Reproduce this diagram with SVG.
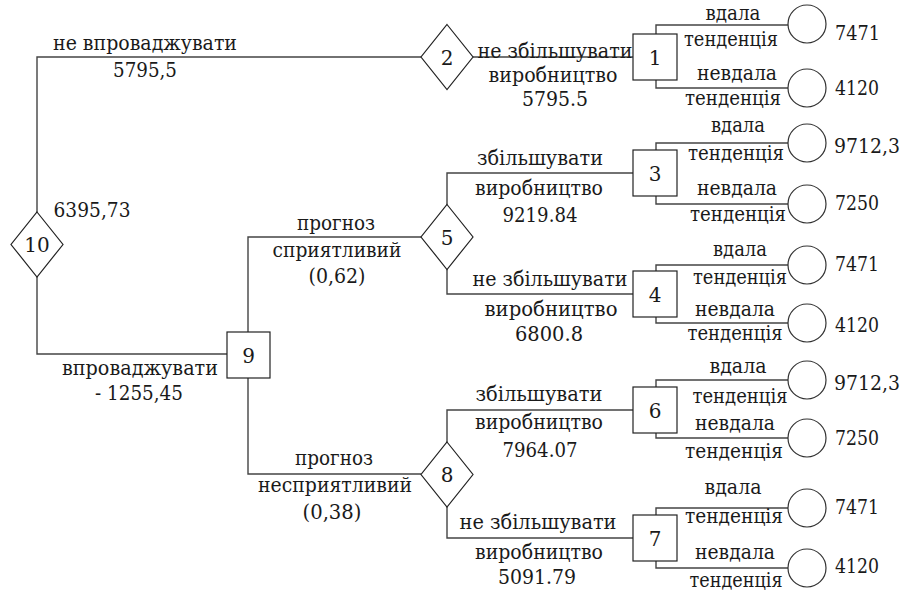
<svg xmlns="http://www.w3.org/2000/svg" width="904" height="594" viewBox="0 0 904 594">
<style>
text{font-family:'DejaVu Serif',serif;font-size:20px;fill:#1a1a1a;text-anchor:middle}
.ln{fill:none;stroke:#444;stroke-width:1.4}
.dm,.bx{fill:#fff;stroke:#222;stroke-width:1.2}
.ci{fill:#fff;stroke:#333;stroke-width:1.2}
.v{text-anchor:start}
</style>
<rect width="904" height="594" fill="#fff"/>
<g id="connectors">
<path class="ln" d="M37,212V57H421"/>
<path class="ln" d="M473,57H633"/>
<path class="ln" d="M656,34V25H788M656,80V88H788"/>
<path class="ln" d="M37,277V354H227"/>
<path class="ln" d="M248,332V237H421"/>
<path class="ln" d="M248,378V474H421"/>
<path class="ln" d="M447,205V173H633"/>
<path class="ln" d="M447,269V294H633"/>
<path class="ln" d="M447,442V410H633"/>
<path class="ln" d="M447,507V538H633"/>
<path class="ln" d="M656,150V143H788M656,196V204H788"/>
<path class="ln" d="M656,271V265H788M656,317V323H788"/>
<path class="ln" d="M656,387V380H788M656,433V438H788"/>
<path class="ln" d="M656,515V508H788M656,561V568H788"/>
</g>
<g id="edge-labels">
<text x="145" y="50" textLength="184" lengthAdjust="spacingAndGlyphs">не впроваджувати</text>
<text x="145" y="77" textLength="64" lengthAdjust="spacingAndGlyphs">5795,5</text>
<text x="92" y="217" textLength="77" lengthAdjust="spacingAndGlyphs">6395,73</text>
<text x="140" y="375" textLength="156" lengthAdjust="spacingAndGlyphs">впроваджувати</text>
<text x="139" y="400" textLength="88" lengthAdjust="spacingAndGlyphs">- 1255,45</text>
<text x="336" y="230" textLength="78" lengthAdjust="spacingAndGlyphs">прогноз</text>
<text x="337" y="257" textLength="129" lengthAdjust="spacingAndGlyphs">сприятливий</text>
<text x="337" y="283" textLength="57" lengthAdjust="spacingAndGlyphs">(0,62)</text>
<text x="334" y="465" textLength="78" lengthAdjust="spacingAndGlyphs">прогноз</text>
<text x="335" y="492" textLength="154" lengthAdjust="spacingAndGlyphs">несприятливий</text>
<text x="332" y="519" textLength="59" lengthAdjust="spacingAndGlyphs">(0,38)</text>
<text x="555" y="58" textLength="155" lengthAdjust="spacingAndGlyphs">не збільшувати</text>
<text x="553" y="82" textLength="129" lengthAdjust="spacingAndGlyphs">виробництво</text>
<text x="555" y="106" textLength="66" lengthAdjust="spacingAndGlyphs">5795.5</text>
<text x="540" y="165" textLength="126" lengthAdjust="spacingAndGlyphs">збільшувати</text>
<text x="539" y="195" textLength="128" lengthAdjust="spacingAndGlyphs">виробництво</text>
<text x="540" y="222" textLength="75" lengthAdjust="spacingAndGlyphs">9219.84</text>
<text x="550" y="286" textLength="155" lengthAdjust="spacingAndGlyphs">не збільшувати</text>
<text x="551" y="316" textLength="133" lengthAdjust="spacingAndGlyphs">виробництво</text>
<text x="549" y="341" textLength="68" lengthAdjust="spacingAndGlyphs">6800.8</text>
<text x="539" y="401" textLength="127" lengthAdjust="spacingAndGlyphs">збільшувати</text>
<text x="539" y="429" textLength="128" lengthAdjust="spacingAndGlyphs">виробництво</text>
<text x="540" y="457" textLength="75" lengthAdjust="spacingAndGlyphs">7964.07</text>
<text x="538" y="529" textLength="157" lengthAdjust="spacingAndGlyphs">не збільшувати</text>
<text x="539" y="559" textLength="128" lengthAdjust="spacingAndGlyphs">виробництво</text>
<text x="537" y="584" textLength="78" lengthAdjust="spacingAndGlyphs">5091.79</text>
<text x="733" y="20" textLength="55" lengthAdjust="spacingAndGlyphs">вдала</text>
<text x="731" y="46" textLength="94" lengthAdjust="spacingAndGlyphs">тенденція</text>
<text x="737" y="80" textLength="80" lengthAdjust="spacingAndGlyphs">невдала</text>
<text x="733" y="105" textLength="96" lengthAdjust="spacingAndGlyphs">тенденція</text>
<text x="738" y="132" textLength="54" lengthAdjust="spacingAndGlyphs">вдала</text>
<text x="736" y="160" textLength="96" lengthAdjust="spacingAndGlyphs">тенденція</text>
<text x="737" y="195" textLength="80" lengthAdjust="spacingAndGlyphs">невдала</text>
<text x="738" y="221" textLength="96" lengthAdjust="spacingAndGlyphs">тенденція</text>
<text x="740" y="256" textLength="54" lengthAdjust="spacingAndGlyphs">вдала</text>
<text x="740" y="284" textLength="94" lengthAdjust="spacingAndGlyphs">тенденція</text>
<text x="735" y="316" textLength="80" lengthAdjust="spacingAndGlyphs">невдала</text>
<text x="735" y="340" textLength="95" lengthAdjust="spacingAndGlyphs">тенденція</text>
<text x="738" y="373" textLength="57" lengthAdjust="spacingAndGlyphs">вдала</text>
<text x="740" y="403" textLength="95" lengthAdjust="spacingAndGlyphs">тенденція</text>
<text x="735" y="430" textLength="80" lengthAdjust="spacingAndGlyphs">невдала</text>
<text x="734" y="458" textLength="98" lengthAdjust="spacingAndGlyphs">тенденція</text>
<text x="733" y="494" textLength="57" lengthAdjust="spacingAndGlyphs">вдала</text>
<text x="734" y="523" textLength="98" lengthAdjust="spacingAndGlyphs">тенденція</text>
<text x="735" y="559" textLength="80" lengthAdjust="spacingAndGlyphs">невдала</text>
<text x="736" y="587" textLength="93" lengthAdjust="spacingAndGlyphs">тенденція</text>
</g>
<g id="n10"><polygon class="dm" points="37,212 63,244.5 37,277 11,244.5"/><text x="37" y="252">10</text></g>
<g id="n2"><polygon class="dm" points="447,24.5 473,57 447,89.5 421,57"/><text x="447" y="64.5">2</text></g>
<g id="n5"><polygon class="dm" points="447,204.5 473,237 447,269.5 421,237"/><text x="447" y="244.5">5</text></g>
<g id="n8"><polygon class="dm" points="447,442 473,474.5 447,507 421,474.5"/><text x="447" y="482">8</text></g>
<g id="n9"><rect class="bx" x="227" y="332" width="43" height="46"/><text x="248.5" y="362.5">9</text></g>
<g id="n1"><rect class="bx" x="633" y="34" width="44" height="46"/><text x="655" y="64.5">1</text></g>
<g id="n3"><rect class="bx" x="633" y="150" width="44" height="46"/><text x="655" y="180.5">3</text></g>
<g id="n4"><rect class="bx" x="633" y="271" width="44" height="46"/><text x="655" y="301.5">4</text></g>
<g id="n6"><rect class="bx" x="633" y="387" width="44" height="46"/><text x="655" y="417.5">6</text></g>
<g id="n7"><rect class="bx" x="633" y="515" width="44" height="46"/><text x="655" y="545.5">7</text></g>
<g id="o1"><circle class="ci" cx="807" cy="24" r="19"/><text class="v" x="835" y="40" textLength="45" lengthAdjust="spacingAndGlyphs">7471</text></g>
<g id="o2"><circle class="ci" cx="807" cy="88" r="19"/><text class="v" x="835" y="95" textLength="44" lengthAdjust="spacingAndGlyphs">4120</text></g>
<g id="o3"><circle class="ci" cx="807" cy="143" r="19"/><text class="v" x="834" y="153" textLength="66" lengthAdjust="spacingAndGlyphs">9712,3</text></g>
<g id="o4"><circle class="ci" cx="807" cy="204" r="19"/><text class="v" x="835" y="210" textLength="44" lengthAdjust="spacingAndGlyphs">7250</text></g>
<g id="o5"><circle class="ci" cx="807" cy="265" r="19"/><text class="v" x="835" y="271" textLength="44" lengthAdjust="spacingAndGlyphs">7471</text></g>
<g id="o6"><circle class="ci" cx="807" cy="323" r="19"/><text class="v" x="835" y="332" textLength="44" lengthAdjust="spacingAndGlyphs">4120</text></g>
<g id="o7"><circle class="ci" cx="807" cy="380" r="19"/><text class="v" x="834" y="390" textLength="66" lengthAdjust="spacingAndGlyphs">9712,3</text></g>
<g id="o8"><circle class="ci" cx="807" cy="438" r="19"/><text class="v" x="835" y="445" textLength="44" lengthAdjust="spacingAndGlyphs">7250</text></g>
<g id="o9"><circle class="ci" cx="807" cy="508" r="19"/><text class="v" x="835" y="514" textLength="44" lengthAdjust="spacingAndGlyphs">7471</text></g>
<g id="o10"><circle class="ci" cx="807" cy="568" r="19"/><text class="v" x="835" y="573" textLength="44" lengthAdjust="spacingAndGlyphs">4120</text></g>
</svg>
